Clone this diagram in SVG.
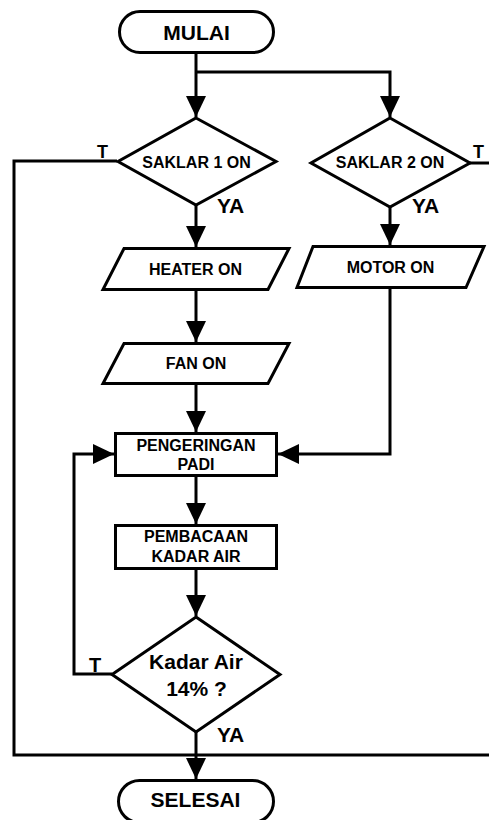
<svg xmlns="http://www.w3.org/2000/svg" width="489" height="820" viewBox="0 0 489 820">
<style>
.s{fill:#fff;stroke:#000;stroke-width:3;stroke-linejoin:miter}
.c{fill:none;stroke:#000;stroke-width:3}
text{font-family:"Liberation Sans",Arial,sans-serif;font-weight:bold;fill:#000}
.m{text-anchor:middle;font-size:16px}
.b{text-anchor:middle;font-size:21px}
.l{font-size:21px}
</style>
<defs>
<marker id="ah" markerUnits="userSpaceOnUse" markerWidth="21" markerHeight="20" refX="21" refY="10" orient="auto">
<path d="M0,0 L21,10 L0,20 z" fill="#000"/>
</marker>
</defs>
<g id="connectors">
<path class="c" d="M196,54 V117" marker-end="url(#ah)"/>
<path class="c" d="M196,72 H390 V117" marker-end="url(#ah)"/>
<path class="c" d="M196,205 V247" marker-end="url(#ah)"/>
<path class="c" d="M390,207 V245" marker-end="url(#ah)"/>
<path class="c" d="M196,290 V342" marker-end="url(#ah)"/>
<path class="c" d="M196,384 V432" marker-end="url(#ah)"/>
<path class="c" d="M390,288 V454 H278" marker-end="url(#ah)"/>
<path class="c" d="M112,674 H74 V454 H114" marker-end="url(#ah)"/>
<path class="c" d="M196,476 V524" marker-end="url(#ah)"/>
<path class="c" d="M196,569 V616" marker-end="url(#ah)"/>
<path class="c" d="M196,732 V779" marker-end="url(#ah)"/>
<path class="c" d="M117,161 H14 V755 H489"/>
<path class="c" d="M470,163 H489"/>
<text x="97" y="158" style="font-size:18px">T</text>
<text x="473" y="158" style="font-size:18px">T</text>
<text x="89" y="672" style="font-size:20px">T</text>
<text class="l" x="217" y="213">YA</text>
<text class="l" x="412" y="213">YA</text>
<text class="l" x="217" y="742">YA</text>
</g>
<g id="mulai">
<rect class="s" x="119.5" y="11.5" width="154" height="41" rx="20.5"/>
<text class="b" x="196.5" y="39.5">MULAI</text>
</g>
<g id="saklar1">
<polygon class="s" points="196,118 276,161.5 196,205 118,161.5"/>
<text class="m" x="196.5" y="168">SAKLAR 1 ON</text>
</g>
<g id="saklar2">
<polygon class="s" points="390,118 470,163 390,207 311,163"/>
<text class="m" x="390" y="168">SAKLAR 2 ON</text>
</g>
<g id="heater">
<polygon class="s" points="124,248.5 289,248.5 268,289.5 103,289.5"/>
<text class="m" x="195.5" y="275">HEATER ON</text>
</g>
<g id="motor">
<polygon class="s" points="313,246.5 484,246.5 466,287.5 297,287.5"/>
<text class="m" x="390.5" y="272.5">MOTOR ON</text>
</g>
<g id="fan">
<polygon class="s" points="124,343.5 289,343.5 268,383.5 103,383.5"/>
<text class="m" x="196" y="369">FAN ON</text>
</g>
<g id="pengeringan">
<rect class="s" x="115.5" y="433.5" width="161" height="42"/>
<text class="m" x="196" y="450.5">PENGERINGAN</text>
<text class="m" x="196" y="470">PADI</text>
</g>
<g id="pembacaan">
<rect class="s" x="115.5" y="525.5" width="161" height="43"/>
<text class="m" x="196" y="542">PEMBACAAN</text>
<text class="m" x="196" y="561.5">KADAR AIR</text>
</g>
<g id="kadar">
<polygon class="s" points="196,617 280,674.5 196,732 112,674.5"/>
<text class="b" x="196" y="668.5">Kadar Air</text>
<text class="b" x="196.5" y="696">14% ?</text>
</g>
<g id="selesai">
<rect class="s" x="118.5" y="780.5" width="155" height="42" rx="21"/>
<text class="b" x="195.5" y="807">SELESAI</text>
</g>
</svg>
